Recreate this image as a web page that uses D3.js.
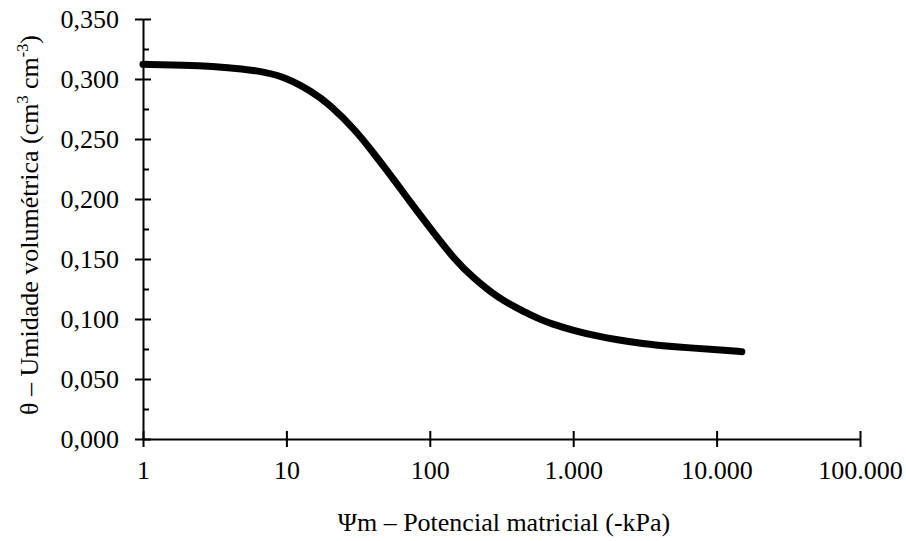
<!DOCTYPE html>
<html>
<head>
<meta charset="utf-8">
<script src="https://cdn.jsdelivr.net/npm/d3@7"></script>
<style>
  html, body { margin: 0; padding: 0; background: #fff; }
  svg { display: block; }
  text { font-family: "Liberation Serif", "Times New Roman", "DejaVu Serif", serif; fill: #000; }
</style>
</head>
<body>
<svg id="chart" width="906" height="541"></svg>
<script>
// Data
const psi   = [1, 2, 3, 5, 7, 10, 15, 20, 30, 40, 50, 60, 70, 80, 100, 150, 200, 300, 400, 500, 600, 700, 1000, 1500, 2000, 3000, 5000, 10000, 15000];
const theta = [0.3122, 0.3116, 0.3107, 0.3085, 0.3058, 0.3012, 0.2897, 0.2789, 0.2580, 0.2392, 0.2240, 0.2114, 0.2006, 0.1913, 0.1760, 0.1490, 0.1345, 0.1175, 0.1095, 0.1035, 0.0993, 0.0962, 0.0905, 0.0855, 0.0828, 0.0795, 0.0769, 0.0744, 0.0728];
const xTicks = [1, 10, 100, 1000, 10000, 100000];
const xTickLabels = ["1", "10", "100", "1.000", "10.000", "100.000"];
const yTicks = [0, 0.05, 0.10, 0.15, 0.20, 0.25, 0.30, 0.35];
const yTickLabels = ["0,000", "0,050", "0,100", "0,150", "0,200", "0,250", "0,300", "0,350"];
const yMinorTicks = [0.025, 0.075, 0.125, 0.175, 0.225, 0.275, 0.325];
const xTitle = "Ψm – Potencial matricial (-kPa)";
const yTitleParts = ["θ – Umidade volumétrica (cm", "3", " cm", "-3", ")"];

const svg = d3.select("#chart");
const mLeft = 143, mRight = 860, mTop = 19, mBottom = 439;
const fs = 26;
const ff = '"Liberation Serif", "Times New Roman", "DejaVu Serif", serif';

const x = d3.scaleLog().domain([1, 100000]).range([mLeft, mRight]);
const y = d3.scaleLinear().domain([0, 0.35]).range([mBottom, mTop]);

// X axis
const xAxis = d3.axisBottom(x).tickValues(xTicks)
  .tickFormat((d, i) => xTickLabels[i]).tickSizeInner(8).tickSizeOuter(0).tickPadding(0);
const gx = svg.append("g").attr("transform", `translate(0,${mBottom})`).call(xAxis)
  .attr("font-family", ff).attr("font-size", fs);
gx.select(".domain").attr("stroke", "#000").attr("stroke-width", 2);
gx.selectAll(".tick line").attr("stroke", "#000").attr("stroke-width", 2).attr("y1", -8).attr("y2", 8);
gx.selectAll(".tick text").attr("fill", "#000").attr("dy", null).attr("y", 40);

// Y axis
const yAxis = d3.axisLeft(y).tickValues(yTicks)
  .tickFormat((d, i) => yTickLabels[i]).tickSizeInner(8).tickSizeOuter(0).tickPadding(17);
const gy = svg.append("g").attr("transform", `translate(${mLeft},0)`).call(yAxis)
  .attr("font-family", ff).attr("font-size", fs);
gy.select(".domain").attr("stroke", "#000").attr("stroke-width", 2);
gy.selectAll(".tick line").attr("stroke", "#000").attr("stroke-width", 2).attr("x1", 8).attr("x2", -8);
gy.selectAll(".tick text").attr("fill", "#000").attr("x", -24).attr("dy", "0.34em");

// Y minor ticks (inside)
const yMinor = d3.axisRight(y).tickValues(yMinorTicks).tickSize(6).tickFormat("");
const gym = svg.append("g").attr("transform", `translate(${mLeft},0)`).call(yMinor);
gym.select(".domain").remove();
gym.selectAll(".tick line").attr("stroke", "#000").attr("stroke-width", 2);

// Curve
const pts = psi.map((p, i) => [p, theta[i]]);
const line = d3.line().x(d => x(d[0])).y(d => y(d[1])).curve(d3.curveBasis);
svg.append("path").datum(pts).attr("d", line)
  .attr("fill", "none").attr("stroke", "#000").attr("stroke-width", 7)
  .attr("stroke-linecap", "round").attr("stroke-linejoin", "round");

// Axis titles
svg.append("text").attr("x", 504).attr("y", 531).attr("text-anchor", "middle")
  .attr("font-size", fs).text(xTitle);

const yt = svg.append("text").attr("transform", "translate(38,225) rotate(-90)")
  .attr("text-anchor", "middle").attr("font-size", fs);
yt.append("tspan").text(yTitleParts[0]);
yt.append("tspan").attr("font-size", fs * 0.62).attr("dy", -10).text(yTitleParts[1]);
yt.append("tspan").attr("dy", 10).text(yTitleParts[2]);
yt.append("tspan").attr("font-size", fs * 0.62).attr("dy", -10).text(yTitleParts[3]);
yt.append("tspan").attr("dy", 10).text(yTitleParts[4]);
</script>
</body>
</html>
